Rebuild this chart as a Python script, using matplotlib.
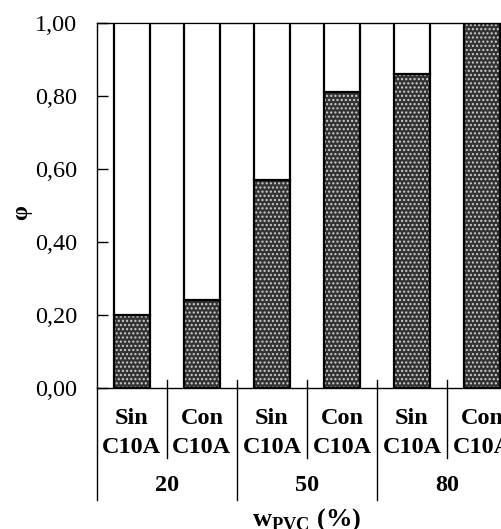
import numpy as np
import matplotlib
matplotlib.use("Agg")
import matplotlib.pyplot as plt

plt.rcParams['font.family'] = ['Liberation Serif', 'DejaVu Serif']
plt.rcParams['mathtext.fontset'] = 'custom'
plt.rcParams['mathtext.rm'] = 'Liberation Serif'
plt.rcParams['mathtext.bf'] = 'Liberation Serif:bold'
plt.rcParams['hatch.linewidth'] = 1.0

Conditions = ["Sin\nC10A", "Con\nC10A", "Sin\nC10A", "Con\nC10A", "Sin\nC10A", "Con\nC10A"]
Groups = ["20", "50", "80"]
Phi = [0.20, 0.24, 0.57, 0.81, 0.86, 1.00]
YTicks = [0.0, 0.2, 0.4, 0.6, 0.8, 1.0]

Fig = plt.figure(figsize=(5.02, 5.29), dpi=100)
Ax = Fig.add_axes([0.193, 0.2665, 0.837, 0.69])

X = np.arange(len(Phi))
Phi = np.array(Phi)
Width = 0.52

# dark stippled part
Ax.bar(X, Phi, Width, color="#333333", edgecolor="#d0d0d0", hatch="....", linewidth=0, zorder=2)
Ax.bar(X, Phi, Width, fill=False, edgecolor="black", linewidth=1.6, zorder=3)
# white remainder up to 1
Ax.bar(X, 1 - Phi, Width, bottom=Phi, color="white", edgecolor="black", linewidth=1.6, zorder=3)

Ax.set_xlim(-0.5, len(Phi) - 0.5)
Ax.set_ylim(0, 1)
Ax.set_yticks(YTicks)
Ax.set_yticklabels([f"{v:.2f}".replace(".", ",") for v in YTicks], fontsize=17.5)
Ax.tick_params(axis="y", direction="in", length=8, width=1, pad=14)
Ax.set_xticks([])
for Side in ["left", "right", "top", "bottom"]:
    Ax.spines[Side].set_linewidth(1.0)

Ax.set_ylabel("φ", fontsize=17, fontweight="bold")
Ax.yaxis.set_label_coords(-0.155, 0.48)

Trans = Ax.get_xaxis_transform()
for i, Label in enumerate(Conditions):
    Ax.text(i, -0.123, Label, transform=Trans, ha="center", va="center",
            fontsize=17.5, fontweight="bold", linespacing=1.5)

# separators between conditions and groups
for i in range(len(Phi) + 1):
    Xb = i - 0.5
    if i % 2 == 1:
        Ax.plot([Xb, Xb], [0.022, -0.192], color="black", lw=1.0, transform=Trans, clip_on=False)
    elif i == 0:
        Ax.plot([Xb, Xb], [0, -0.307], color="black", lw=1.0, transform=Trans, clip_on=False)
    else:
        Ax.plot([Xb, Xb], [0.022, -0.307], color="black", lw=1.0, transform=Trans, clip_on=False)

for j, G in enumerate(Groups):
    Ax.text(2 * j + 0.5, -0.266, G, transform=Trans, ha="center", va="center",
            fontsize=17.5, fontweight="bold")

Ax.text(2.5, -0.36, r"w$_{\mathbf{PVC}}$ (%)", transform=Trans, ha="center", va="center",
        fontsize=19, fontweight="bold")

Fig.savefig("out.png", dpi=100)
